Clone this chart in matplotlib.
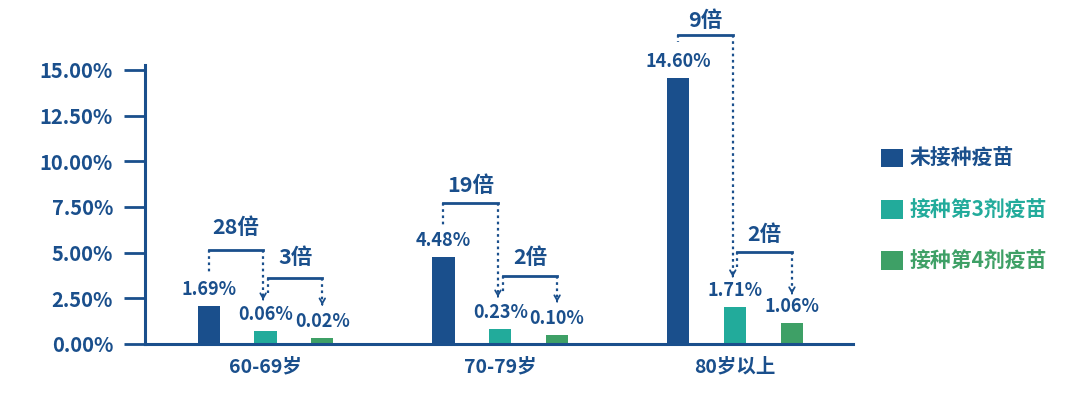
import numpy as np
from matplotlib import pyplot as plt
from matplotlib.patches import Patch

plt.rcParams['font.family'] = ['Noto Sans CJK SC', 'DejaVu Sans']
plt.rcParams['font.weight'] = 'bold'

# data
groups = ['60-69岁', '70-79岁', '80岁以上']
series = ['未接种疫苗', '接种第3剂疫苗', '接种第4剂疫苗']
# printed values (%)
labels_unvax = [1.69, 4.48, 14.60]
labels_dose3 = [0.06, 0.23, 1.71]
labels_dose4 = [0.02, 0.10, 1.06]
# drawn bar heights (%), as measured from the bars themselves
height_unvax = [2.08, 4.76, 14.56]
height_dose3 = [0.71, 0.82, 2.03]
height_dose4 = [0.33, 0.49, 1.15]
# fold differences: unvaccinated vs 3rd dose, 3rd dose vs 4th dose
fold_3 = ['28倍', '19倍', '9倍']
fold_4 = ['3倍', '2倍', '2倍']

yticks = [0, 2.5, 5, 7.5, 10, 12.5, 15]

navy = '#1a4f8c'
teal = '#22ab9b'
green = '#3ea066'
colors = [navy, teal, green]

fig = plt.figure(figsize=(10.8, 3.96), dpi=100)
ax = fig.add_axes([145 / 1080, 1 - 344 / 396, (853 - 145) / 1080, (344 - 65) / 396])

x = np.arange(len(groups))
off = 0.242
width = 0.094
heights = [height_unvax, height_dose3, height_dose4]
values = [labels_unvax, labels_dose3, labels_dose4]

for i in range(3):
    xs = x + (i - 1) * off
    ax.bar(xs, heights[i], width=width, color=colors[i], label=series[i], zorder=2)
    for xi, h, v in zip(xs, heights[i], values[i]):
        ax.annotate('%.2f%%' % v, (xi, h), xytext=(0, 12), textcoords='offset points',
                    ha='center', va='center', fontsize=13, color=navy, fontweight='bold')

# bracket geometry (in % units): bar level, left leg end, arrow tip, text level
brackets_3 = [(5.15, 3.94, 2.41, 6.35), (7.72, 6.40, 2.57, 8.70), (16.91, 16.53, 3.67, 17.73)]
brackets_4 = [(3.61, 2.79, 2.13, 4.71), (3.72, 2.85, 2.30, 4.76), (5.04, 4.21, 2.74, 5.97)]


def bracket(x0, x1, level, leftEnd, tip, textY, text):
    ax.plot([x0, x1], [level, level], color=navy, lw=2, clip_on=False, zorder=3)
    ax.plot([x0, x0], [level, leftEnd], color=navy, lw=1.6, ls=(0, (1.2, 1.6)), clip_on=False)
    ax.plot([x1, x1], [level, tip + 0.1], color=navy, lw=1.6, ls=(0, (1.2, 1.6)), clip_on=False)
    ax.annotate('', xy=(x1, tip), xytext=(x1, tip + 0.05),
                arrowprops=dict(arrowstyle='->,head_width=0.2,head_length=0.35', color=navy, lw=1.3),
                annotation_clip=False)
    ax.text((x0 + x1) / 2, textY, text, ha='center', va='center', fontsize=15.5,
            color=navy, fontweight='bold', clip_on=False)


for g in range(3):
    b = brackets_3[g]
    bracket(x[g] - off, x[g] - 0.01, b[0], b[1], b[2], b[3], fold_3[g])
    b = brackets_4[g]
    bracket(x[g] + 0.01, x[g] + off, b[0], b[1], b[2], b[3], fold_4[g])

ax.set_xlim(-0.513, 2.502)
ax.set_ylim(0, 15.27)
ax.set_yticks(yticks)
ax.set_yticklabels(['%.2f%%' % t for t in yticks])
ax.set_xticks(x)
ax.set_xticklabels(groups)
ax.tick_params(axis='y', length=15, width=2, color=navy, pad=8, labelsize=14.5, labelcolor=navy)
ax.tick_params(axis='x', length=0, pad=10, labelsize=14, labelcolor=navy)
for lbl in ax.get_xticklabels() + ax.get_yticklabels():
    lbl.set_fontweight('bold')
for s in ['top', 'right']:
    ax.spines[s].set_visible(False)
for s in ['left', 'bottom']:
    ax.spines[s].set_color(navy)
    ax.spines[s].set_linewidth(2.2)

handles = [Patch(facecolor=c) for c in colors]
leg = ax.legend(handles, series, loc='center left', bbox_to_anchor=(881 / 1080, 1 - 210 / 396),
                bbox_transform=fig.transFigure, frameon=False, borderpad=0, borderaxespad=0,
                handlelength=1.05, handleheight=1.0, handletextpad=0.3, labelspacing=1.45,
                prop={'size': 15, 'weight': 'bold'})
for t, c in zip(leg.get_texts(), colors):
    t.set_color(c)

fig.savefig('out.png', dpi=100)
